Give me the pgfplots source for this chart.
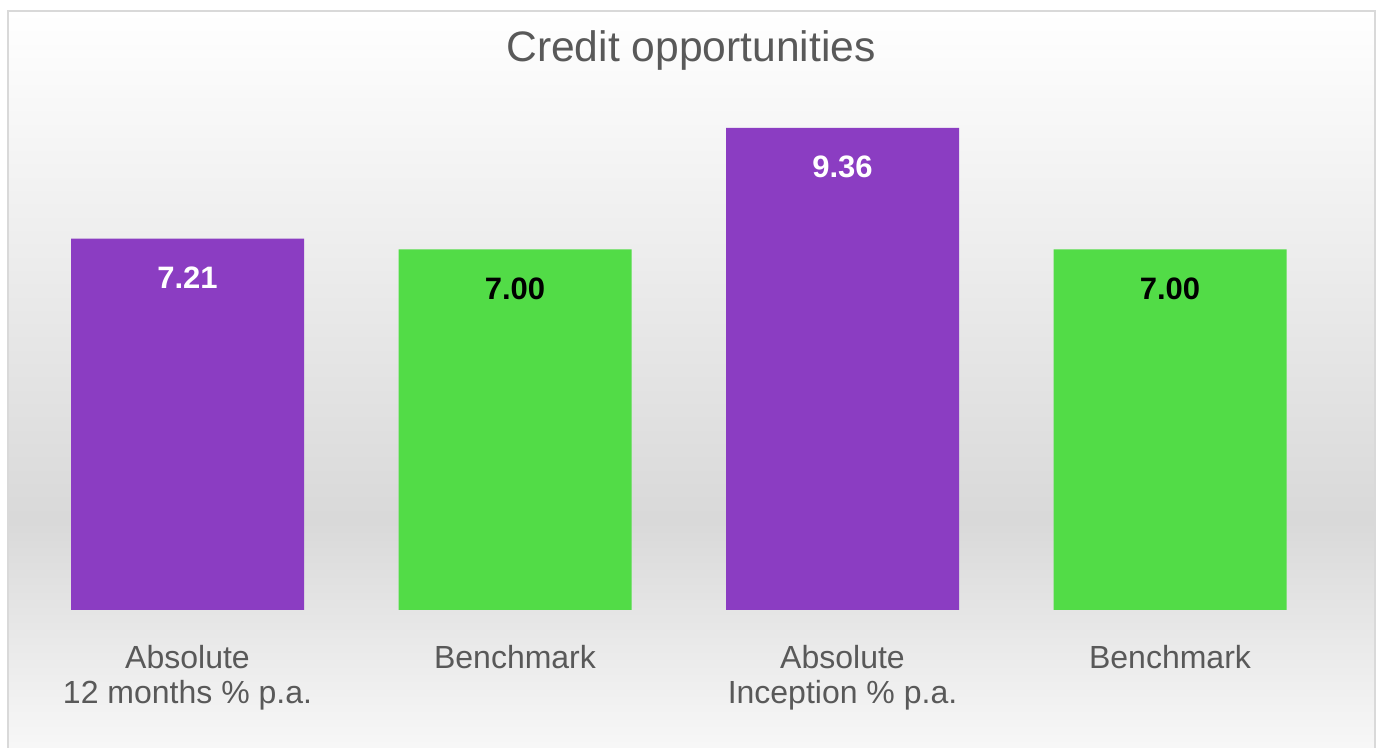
\documentclass[border=0pt]{standalone}
\usepackage{pgfplots}
\pgfplotsset{compat=1.18}
\usepackage{fontspec}
\setmainfont{Liberation Sans}
\definecolor{barpurple}{RGB}{139,61,194}
\definecolor{bargreen}{RGB}{82,220,71}
\definecolor{txtgray}{RGB}{89,89,89}
\definecolor{framegray}{RGB}{217,217,217}
\begin{document}
\begin{tikzpicture}[x=1pt,y=1pt]
\useasboundingbox (0,0) rectangle (688.5,374);
% background gradient
\shade[top color=white, bottom color=black!15] (4,114) rectangle (687.5,368.5);
\shade[top color=black!15, bottom color=black!3] (4,0) rectangle (687.5,114.2);
\draw[framegray, line width=1pt] (4,-5) -- (4,368.5) -- (687.5,368.5) -- (687.5,-5);
\node[text=txtgray, font=\fontsize{21.3}{25}\selectfont] at (345.5,348.5) {Credit opportunities};
\begin{axis}[
  at={(11.875pt,69pt)}, anchor=south west,
  scale only axis, width=655pt, height=257.5pt,
  xmin=-0.5, xmax=3.5, ymin=0, ymax=10,
  ybar, bar width=116.5pt, bar shift=0pt,
  axis line style={draw=none},
  major tick length=0pt,
  ytick=\empty,
  xtick={0,1,2,3},
  xticklabels={{Absolute\\12 months \% p.a.},{Benchmark},{Absolute\\Inception \% p.a.},{Benchmark}},
  xticklabel style={align=center, text=txtgray, font=\fontsize{16}{17.5}\selectfont, anchor=north, yshift=-14pt},
  /pgf/number format/assume math mode=true,
  nodes near coords={\pgfmathprintnumber[fixed,fixed zerofill,precision=2]{\pgfplotspointmeta}},
  every node near coord/.append style={anchor=center, yshift=-19.5pt, font=\bfseries\fontsize{15.5}{18}\selectfont},
  clip=false,
]
\addplot[fill=barpurple, draw=none, every node near coord/.append style={text=white}] coordinates {(0,7.21) (2,9.36)};
\addplot[fill=bargreen, draw=none, every node near coord/.append style={text=black}] coordinates {(1,7.00) (3,7.00)};
\end{axis}
\end{tikzpicture}
\end{document}
